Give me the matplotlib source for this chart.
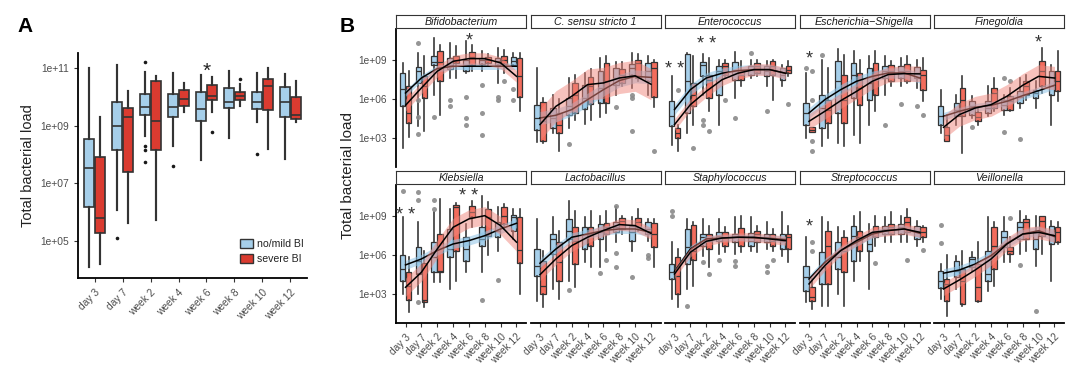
import numpy as np
import matplotlib
matplotlib.use("Agg")
import matplotlib.pyplot as plt
from matplotlib.patches import Patch
from matplotlib.ticker import NullLocator

plt.rcParams['font.family'] = ['Liberation Sans', 'DejaVu Sans']

# ---------------- data ----------------
TIMES = ["day 3", "day 7", "week 2", "week 4", "week 6", "week 8", "week 10", "week 12"]
GROUPS = ["no/mild BI", "severe BI"]

# Panel A (log10 total bacterial load)
A_blue_hi = [11.0, 11.1, 10.88, 10.83, 10.77, 10.92, 10.83, 10.8]
A_blue_q3 = [8.55, 9.84, 10.09, 10.09, 10.16, 10.31, 10.19, 10.36]
A_blue_med = [7.53, 9.0, 9.64, 9.64, 9.59, 9.81, 9.84, 9.84]
A_blue_q1 = [6.17, 8.17, 9.38, 9.3, 9.18, 9.6, 9.58, 9.29]
A_blue_lo = [4.09, 6.06, 8.63, 8.28, 7.8, 8.57, 9.12, 7.84]
A_red_hi = [9.29, 10.2, 10.73, 10.5, 10.68, 10.46, 11.0, 10.56]
A_red_q3 = [7.91, 9.6, 10.57, 10.23, 10.42, 10.16, 10.62, 10.0]
A_red_med = [5.80, 9.32, 9.17, 9.92, 10.02, 10.02, 10.39, 9.38]
A_red_q1 = [5.28, 7.38, 8.14, 9.67, 9.9, 9.88, 9.55, 9.23]
A_red_lo = [4.2, 5.62, 5.72, 9.46, 9.46, 9.69, 8.19, 9.12]
A_blue_out = [(1, 5.1), (2, 11.2), (2, 8.28), (2, 8.14), (2, 7.73), (3, 7.59), (6, 8.02)]
A_red_out = [(4, 8.78), (5, 10.63)]
A_stars = [(4, 10.9, "*")]

# Panel B
TAXA = ["Bifidobacterium", "C. sensu stricto 1", "Enterococcus", "Escherichia\u2212Shigella",
        "Finegoldia", "Klebsiella", "Lactobacillus", "Staphylococcus", "Streptococcus", "Veillonella"]

B_blue_hi = [
    [8.8, 9.55, 10.7, 10.34, 10.5, 9.7, 9.95, 9.57],
    [8.4, 6.35, 7.6, 8.0, 9.2, 8.9, 9.55, 9.3],
    [7.76, 9.6, 9.5, 9.05, 9.64, 9.05, 8.92, 8.66],
    [8.0, 9.05, 9.9, 9.7, 9.3, 9.3, 9.2, 9.05],
    [6.73, 6.35, 6.22, 6.99, 6.35, 7.63, 7.38, 8.66],
    [8.92, 8.54, 9.3, 9.57, 8.4, 10.6, 9.7, 9.57],
    [8.8, 8.92, 10.2, 8.92, 9.05, 9.7, 8.92, 8.8],
    [7.0, 8.8, 8.8, 8.8, 8.92, 8.92, 8.54, 9.3],
    [7.38, 8.92, 8.15, 9.05, 8.4, 8.92, 9.05, 8.66],
    [5.31, 5.96, 6.22, 8.92, 8.92, 9.44, 9.05, 8.66],
]
B_blue_q3 = [
    [8.0, 8.45, 9.3, 9.2, 9.05, 9.2, 9.2, 9.25],
    [5.57, 5.3, 6.1, 7.1, 8.15, 8.4, 8.7, 8.8],
    [5.83, 9.5, 8.85, 8.53, 8.85, 8.54, 8.54, 8.4],
    [5.7, 6.35, 8.92, 8.8, 8.4, 8.54, 8.54, 8.46],
    [5.44, 5.7, 5.83, 5.88, 5.96, 6.6, 6.73, 8.15],
    [6.04, 6.65, 7.0, 8.02, 7.38, 8.15, 8.53, 9.13],
    [6.47, 7.63, 8.8, 8.15, 8.4, 8.54, 8.28, 8.54],
    [5.31, 8.02, 7.63, 7.76, 7.63, 7.7, 7.63, 7.63],
    [5.19, 6.22, 7.0, 8.28, 7.63, 8.28, 8.4, 8.28],
    [4.75, 5.57, 5.88, 6.35, 7.9, 8.54, 7.76, 8.28],
]
B_blue_med = [
    [6.8, 8.15, 8.9, 8.65, 8.6, 9.0, 8.95, 8.95],
    [4.54, 4.54, 5.45, 6.1, 6.86, 7.63, 8.4, 8.15],
    [4.67, 7.38, 8.66, 8.15, 8.28, 8.28, 8.15, 7.9],
    [4.93, 5.31, 7.38, 7.9, 7.25, 8.15, 8.15, 8.02],
    [4.67, 5.19, 5.44, 5.31, 5.57, 6.2, 6.47, 7.0],
    [4.93, 5.57, 5.83, 6.47, 6.47, 7.25, 7.9, 8.92],
    [5.19, 7.25, 7.9, 7.63, 7.76, 8.15, 7.76, 8.02],
    [4.67, 6.6, 7.38, 7.5, 7.38, 7.12, 7.38, 7.12],
    [4.28, 5.06, 5.83, 7.5, 6.86, 8.02, 8.15, 7.9],
    [4.03, 4.8, 5.7, 4.54, 7.38, 8.15, 7.25, 7.63],
]
B_blue_q1 = [
    [5.45, 7.25, 8.65, 8.3, 8.2, 8.7, 8.65, 8.65],
    [3.64, 3.77, 4.8, 5.2, 5.7, 7.1, 7.9, 7.4],
    [3.9, 4.93, 7.76, 6.35, 7.5, 7.9, 7.76, 7.5],
    [4.03, 3.77, 4.93, 6.1, 5.96, 7.63, 7.63, 7.63],
    [4.03, 4.67, 4.8, 4.93, 5.19, 5.7, 6.1, 6.35],
    [4.03, 4.54, 4.67, 5.83, 5.57, 6.73, 7.38, 7.9],
    [4.41, 6.1, 7.25, 6.47, 7.25, 7.76, 7.12, 7.63],
    [4.15, 5.31, 6.73, 7.12, 7.0, 6.73, 7.0, 6.47],
    [3.25, 3.77, 4.93, 5.57, 6.35, 7.63, 7.63, 7.25],
    [3.46, 4.28, 5.06, 4.03, 6.6, 7.25, 6.47, 6.86],
]
B_blue_lo = [
    [2.2, 3.9, 6.35, 7.6, 8.0, 8.15, 7.25, 8.54],
    [2.7, 3.4, 3.8, 4.05, 4.65, 6.35, 6.85, 6.35],
    [2.48, 3.38, 6.35, 4.0, 6.1, 7.63, 7.0, 7.0],
    [3.0, 2.35, 2.6, 3.25, 4.03, 6.35, 7.0, 6.85],
    [3.38, 4.03, 4.54, 4.67, 4.8, 5.31, 5.31, 4.03],
    [3.0, 3.0, 3.9, 3.38, 4.67, 4.67, 6.35, 7.25],
    [2.48, 3.38, 4.03, 5.44, 5.1, 7.0, 6.35, 7.12],
    [2.6, 3.38, 5.96, 6.1, 6.1, 6.35, 6.47, 5.96],
    [2.35, 2.09, 3.0, 4.03, 3.38, 6.99, 6.99, 6.73],
    [2.6, 3.38, 4.8, 3.25, 5.44, 6.1, 5.19, 4.03],
]
B_red_hi = [
    [8.15, 9.3, 10.2, 10.1, 10.2, 9.45, 9.8, 9.55],
    [6.08, 6.0, 7.9, 8.3, 9.3, 8.85, 9.45, 9.05],
    [4.03, 9.3, 9.2, 9.05, 8.92, 9.05, 9.05, 8.92],
    [3.82, 8.4, 9.44, 9.05, 9.7, 8.92, 9.3, 9.2],
    [4.8, 7.76, 5.31, 7.63, 6.86, 7.9, 9.95, 9.7],
    [5.83, 6.35, 10.34, 10.0, 10.2, 10.1, 9.95, 9.55],
    [6.35, 7.9, 9.44, 9.44, 9.44, 9.05, 9.57, 8.8],
    [6.47, 8.54, 8.28, 8.15, 9.05, 8.28, 8.03, 8.28],
    [4.15, 8.54, 7.9, 9.3, 9.05, 9.3, 9.57, 8.28],
    [6.0, 6.35, 7.0, 8.54, 7.38, 9.05, 9.05, 8.54],
]
B_red_q3 = [
    [7.0, 7.75, 9.75, 9.3, 9.65, 9.25, 9.3, 9.2],
    [5.78, 4.9, 7.25, 7.7, 8.8, 8.3, 9.05, 8.9],
    [3.77, 7.25, 7.9, 8.8, 8.28, 8.8, 8.92, 8.54],
    [3.82, 5.96, 7.9, 8.02, 8.8, 8.6, 8.7, 8.28],
    [3.82, 6.86, 5.0, 6.86, 6.22, 7.38, 8.92, 8.15],
    [4.67, 5.37, 7.63, 9.9, 9.82, 9.57, 9.7, 8.92],
    [5.57, 7.0, 8.15, 8.15, 8.46, 8.85, 8.85, 8.46],
    [5.88, 8.36, 7.63, 7.76, 8.1, 7.9, 7.63, 7.63],
    [3.51, 7.9, 7.38, 7.9, 8.28, 8.4, 8.92, 8.15],
    [4.15, 4.93, 5.31, 8.15, 6.65, 8.8, 9.05, 8.15],
]
B_red_med = [
    [4.9, 7.0, 8.9, 9.05, 9.25, 9.05, 9.05, 7.8],
    [4.3, 4.0, 6.35, 7.0, 7.4, 7.9, 8.8, 8.4],
    [3.38, 6.35, 7.5, 8.54, 7.9, 8.54, 8.54, 8.28],
    [3.64, 5.19, 5.96, 6.86, 7.63, 8.15, 8.15, 7.9],
    [3.25, 5.96, 4.6, 6.47, 5.83, 7.0, 8.15, 7.38],
    [3.64, 2.5, 4.75, 9.7, 9.3, 8.92, 9.05, 6.4],
    [3.64, 5.44, 7.12, 7.63, 8.15, 8.66, 8.54, 7.63],
    [4.41, 6.35, 7.12, 7.38, 7.5, 7.63, 7.12, 7.38],
    [2.74, 6.73, 6.35, 7.38, 7.9, 8.15, 8.54, 7.76],
    [3.77, 4.03, 3.51, 6.73, 6.35, 8.54, 8.66, 7.76],
]
B_red_q1 = [
    [4.15, 6.1, 7.4, 8.8, 8.65, 8.8, 8.7, 6.2],
    [2.74, 3.4, 4.9, 5.6, 5.7, 7.25, 7.63, 6.2],
    [3.0, 5.44, 6.1, 7.9, 7.5, 8.0, 7.9, 8.0],
    [3.46, 4.15, 4.15, 5.57, 6.35, 7.4, 7.38, 6.73],
    [2.74, 4.67, 4.28, 5.31, 5.19, 6.35, 7.0, 6.6],
    [2.53, 2.35, 4.67, 6.35, 8.92, 7.5, 8.4, 5.37],
    [3.0, 4.03, 5.31, 6.73, 7.63, 8.02, 8.15, 6.6],
    [3.0, 5.62, 6.47, 6.73, 6.73, 7.0, 6.73, 6.47],
    [2.43, 3.77, 4.67, 6.35, 7.38, 7.63, 7.76, 7.38],
    [2.48, 2.22, 2.48, 4.93, 6.1, 7.25, 7.5, 7.0],
]
B_red_lo = [
    [3.1, 3.5, 4.75, 7.6, 8.15, 8.55, 8.0, 5.1],
    [2.6, 1.95, 4.4, 4.4, 4.9, 7.0, 7.4, 5.4],
    [1.96, 4.0, 5.06, 7.63, 6.99, 7.76, 5.96, 7.76],
    [3.46, 3.0, 2.35, 2.6, 5.06, 7.0, 7.25, 5.83],
    [2.74, 1.83, 4.03, 5.06, 5.06, 5.96, 6.47, 5.83],
    [1.58, 1.95, 3.9, 4.03, 8.15, 6.0, 8.02, 3.0],
    [1.96, 2.6, 3.5, 5.06, 6.35, 7.63, 7.89, 5.1],
    [1.96, 3.6, 5.06, 6.22, 6.22, 6.22, 6.35, 5.44],
    [1.83, 2.09, 2.09, 5.57, 6.73, 7.0, 6.99, 7.0],
    [1.32, 2.09, 2.35, 3.64, 5.44, 6.35, 6.1, 6.86],
]
B_blue_out = [
    [(1, 10.3), (1, 5.95), (1, 4.6), (1, 3.3), (2, 4.6), (3, 5.95), (3, 5.45), (4, 6.2), (4, 4.5),
     (4, 4.0), (5, 7.1), (5, 4.9), (5, 3.25), (6, 6.2), (6, 5.95), (7, 6.8), (7, 5.95)],
    [(2, 2.5), (5, 5.4), (6, 6.35), (6, 6.05), (6, 3.5)],
    [(2, 4.4), (2, 4.0), (4, 4.54), (5, 9.57), (6, 5.1)],
    [(0, 8.4), (1, 9.44), (5, 4.0), (6, 5.6), (7, 5.5)],
    [(2, 3.82), (4, 7.63), (4, 3.46), (5, 2.95)],
    [(0, 10.93), (1, 10.86), (1, 10.26), (1, 2.35), (2, 10.26), (2, 9.57), (5, 2.56), (6, 4.08)],
    [(2, 3.3), (4, 4.6), (5, 6.14), (5, 5.1), (5, 9.77), (6, 4.33), (7, 6.04), (7, 5.78)],
    [(0, 9.44), (0, 9.05), (1, 2.09), (2, 5.44), (3, 5.62), (4, 5.52), (4, 5.19), (6, 5.19), (6, 4.67)],
    [],
    [(0, 8.36), (0, 6.91), (5, 5.24), (6, 1.65)],
]
B_red_out = [
    [(6, 7.4)],
    [(7, 1.95)],
    [(0, 6.73), (1, 2.2), (2, 3.5), (3, 5.9), (7, 5.6)],
    [(0, 8.15), (0, 5.96), (0, 2.79), (0, 1.96), (7, 4.8)],
    [(4, 7.43)],
    [],
    [(4, 5.62)],
    [(2, 4.54), (6, 5.62)],
    [(0, 7.0), (0, 6.35), (4, 5.37), (6, 5.62), (7, 6.4)],
    [(4, 8.87)],
]
# fitted trends (log10) per group at each time point
B_blue_fit = [
    [6.47, 7.63, 8.36, 8.54, 8.54, 8.54, 8.54, 8.54],
    [4.54, 4.75, 5.19, 5.96, 6.73, 7.43, 7.76, 7.68],
    [5.19, 6.73, 7.63, 8.0, 8.2, 8.28, 8.28, 8.0],
    [4.93, 5.96, 6.73, 7.38, 7.76, 8.02, 8.02, 7.63],
    [4.67, 5.06, 5.37, 5.52, 5.83, 6.27, 6.65, 7.07],
    [5.24, 5.7, 6.35, 6.86, 7.12, 7.5, 8.02, 8.46],
    [5.37, 6.47, 7.38, 7.63, 7.9, 8.02, 8.02, 7.76],
    [4.75, 6.47, 7.25, 7.32, 7.38, 7.32, 7.3, 7.2],
    [4.15, 5.44, 6.35, 6.99, 7.63, 7.9, 8.02, 7.68],
    [4.6, 4.85, 5.31, 5.96, 6.91, 7.63, 7.89, 7.43],
]
B_red_fit = [
    [5.52, 6.86, 8.15, 8.92, 9.13, 9.13, 8.8, 7.76],
    [4.03, 5.44, 6.22, 7.12, 7.25, 7.63, 7.8, 7.15],
    [4.03, 5.57, 6.6, 7.5, 8.0, 8.28, 8.28, 8.0],
    [4.28, 5.06, 5.88, 6.6, 7.38, 7.9, 7.97, 7.95],
    [3.82, 4.8, 5.31, 5.57, 6.22, 7.07, 7.76, 7.63],
    [3.51, 4.67, 6.47, 8.15, 8.8, 9.05, 8.28, 7.0],
    [4.49, 5.7, 6.73, 7.38, 7.9, 8.36, 8.28, 7.68],
    [4.54, 6.22, 7.07, 7.32, 7.38, 7.38, 7.25, 7.12],
    [3.77, 5.19, 6.35, 7.12, 7.76, 7.9, 8.02, 7.76],
    [3.38, 4.08, 4.85, 5.7, 6.86, 7.63, 7.76, 7.5],
]
# half width of confidence bands (decades)
B_blue_band = [0.25, 0.5, 0.4, 0.4, 0.3, 0.35, 0.35, 0.25, 0.3, 0.35]
B_red_band = [0.45, 1.2, 0.45, 0.6, 0.9, 0.7, 0.45, 0.35, 0.4, 0.5]
# significance marks: (taxon, time index, height, label)
B_stars = [(0, 4, 10.5, "*"), (2, 0, 8.3, "* *"), (2, 2, 10.24, "* *"), (3, 0, 9.1, "*"),
           (4, 6, 10.37, "*"), (5, 0, 9.1, "* *"), (5, 4, 10.5, "* *"), (8, 0, 8.18, "*")]

# ---------------- style ----------------
W, H = 1080, 369
BLUE = '#A6CFEA'
RED_A = '#DA3B30'
RED_B = '#F26C5C'
EDGE = '#333333'
TICKC = '#4D4D4D'
BAND_BLUE = '#8EC3E6'
BAND_RED = '#F0867C'


def frac(x, y, w, h):
    return [x / W, 1 - (y + h) / H, w / W, h / H]


def draw_boxes(ax, lo, q1, med, q3, hi, outs, offset, color, lw, fl_color, fl_size, alpha=1.0):
    stats = []
    for i in range(len(med)):
        fl = [10 ** v for (t, v) in outs if t == i]
        stats.append(dict(med=10 ** med[i], q1=10 ** q1[i], q3=10 ** q3[i],
                          whislo=10 ** lo[i], whishi=10 ** hi[i], fliers=fl))
    pos = [i + 1 + offset for i in range(len(med))]
    ax.bxp(stats, positions=pos, widths=0.36, patch_artist=True, showcaps=False,
           boxprops=dict(facecolor=color, edgecolor=EDGE, linewidth=lw, alpha=alpha),
           medianprops=dict(color=EDGE, linewidth=lw),
           whiskerprops=dict(color=EDGE, linewidth=lw * 1.3),
           flierprops=dict(marker='o', markerfacecolor=fl_color, markeredgecolor='none',
                           markersize=fl_size, alpha=0.9),
           manage_ticks=False)


def log_labels(ax, exps):
    ax.set_yticks([10.0 ** e for e in exps])
    ax.set_yticklabels(['1e+%02d' % e for e in exps])
    ax.yaxis.set_minor_locator(NullLocator())


fig = plt.figure(figsize=(W / 100, H / 100), dpi=100)

# ---------------- Panel A ----------------
axA = fig.add_axes(frac(78, 53, 229, 225))
axA.set_yscale('log')
draw_boxes(axA, A_blue_lo, A_blue_q1, A_blue_med, A_blue_q3, A_blue_hi, A_blue_out,
           -0.19, BLUE, 1.2, 'black', 2.6)
draw_boxes(axA, A_red_lo, A_red_q1, A_red_med, A_red_q3, A_red_hi, A_red_out,
           0.19, RED_A, 1.2, 'black', 2.6)
for t, v, s in A_stars:
    axA.text(t + 1, 10 ** v, s, ha='center', va='center', fontsize=15, color='#222222')
axA.set_xlim(0.4, 8.6)
axA.set_ylim(10 ** 3.70, 10 ** 11.53)
log_labels(axA, [5, 7, 9, 11])
axA.set_xticks(range(1, 9))
axA.set_xticklabels(TIMES, rotation=45, ha='right', rotation_mode='anchor')
axA.tick_params(axis='both', labelsize=7.4, colors=EDGE, labelcolor=TICKC, length=3, width=0.8)
for s in ['top', 'right']:
    axA.spines[s].set_visible(False)
for s in ['left', 'bottom']:
    axA.spines[s].set_linewidth(1.3)
    axA.spines[s].set_color('black')
axA.set_ylabel('Total bacterial load', fontsize=10.5, color='#222222', labelpad=4)
handles = [Patch(facecolor=BLUE, edgecolor=EDGE, linewidth=1.0, label=GROUPS[0]),
           Patch(facecolor=RED_A, edgecolor=EDGE, linewidth=1.0, label=GROUPS[1])]
axA.legend(handles=handles, loc='lower right', bbox_to_anchor=(1.03, 0.02), frameon=False,
           fontsize=7.6, handlelength=1.3, handleheight=1.0, handletextpad=0.4,
           labelspacing=0.45, labelcolor='#222222')
fig.text(25 / W, 1 - 27 / H, 'A', fontsize=15, fontweight='bold', ha='center', va='center')

# ---------------- Panel B ----------------
col_x = [396, 530.5, 665, 799.5, 934]
row_y = [29, 185]
PW, PH = 130, 138
for k, name in enumerate(TAXA):
    r, c = divmod(k, 5)
    x0, y0 = col_x[c], row_y[r]
    ax = fig.add_axes(frac(x0, y0, PW, PH))
    ax.set_yscale('log')
    draw_boxes(ax, B_blue_lo[k], B_blue_q1[k], B_blue_med[k], B_blue_q3[k], B_blue_hi[k],
               B_blue_out[k], -0.19, BLUE, 0.9, '#8A8A8A', 3.6)
    draw_boxes(ax, B_red_lo[k], B_red_q1[k], B_red_med[k], B_red_q3[k], B_red_hi[k],
               B_red_out[k], 0.19, RED_B, 0.9, '#8A8A8A', 3.6)
    xs = np.arange(1, 9)
    bf = np.array(B_blue_fit[k])
    rf = np.array(B_red_fit[k])
    ax.fill_between(xs, 10 ** (bf - B_blue_band[k]), 10 ** (bf + B_blue_band[k]),
                    color=BAND_BLUE, alpha=0.55, lw=0, zorder=4)
    ax.plot(xs, 10 ** bf, color='black', lw=1.1, zorder=4.5)
    ax.fill_between(xs, 10 ** (rf - B_red_band[k]), 10 ** (rf + B_red_band[k]),
                    color=BAND_RED, alpha=0.5, lw=0, zorder=5)
    ax.plot(xs, 10 ** rf, color='black', lw=1.1, zorder=5.5)
    for (tk, t, v, s) in B_stars:
        if tk == k:
            ax.text(t + 1, 10 ** v, s, ha='center', va='center', fontsize=13,
                    color='#333333', zorder=6)
    ax.set_xlim(0.4, 8.6)
    ax.set_ylim(10 ** 0.75, 10 ** 11.42)
    for s in ['top', 'right']:
        ax.spines[s].set_visible(False)
    ax.set_xticks(range(1, 9))
    if r == 1:
        ax.set_xticklabels(TIMES, rotation=45, ha='right', rotation_mode='anchor')
        ax.spines['bottom'].set_linewidth(1.3)
        ax.spines['bottom'].set_color('black')
        ax.tick_params(axis='x', labelsize=7.3, colors=EDGE, labelcolor=TICKC, length=3, width=0.8)
    else:
        ax.spines['bottom'].set_visible(False)
        ax.tick_params(axis='x', length=0, labelbottom=False)
    log_labels(ax, [3, 6, 9])
    if c == 0:
        ax.spines['left'].set_linewidth(1.3)
        ax.spines['left'].set_color('black')
        ax.tick_params(axis='y', labelsize=7.3, colors=EDGE, labelcolor=TICKC, length=3, width=0.8)
    else:
        ax.spines['left'].set_visible(False)
        ax.tick_params(axis='y', length=0, labelleft=False)
    # strip
    sax = fig.add_axes(frac(x0, y0 - 14, PW, 13))
    sax.set_xticks([])
    sax.set_yticks([])
    for s in sax.spines.values():
        s.set_color('#333333')
        s.set_linewidth(0.8)
    sax.text(0.5, 0.47, name, ha='center', va='center', fontsize=7.7, style='italic',
             color='#1A1A1A', transform=sax.transAxes)

fig.text(348 / W, 1 - 176 / H, 'Total bacterial load', rotation=90, fontsize=11,
         ha='center', va='center', color='#222222')
fig.text(347 / W, 1 - 26 / H, 'B', fontsize=15, fontweight='bold', ha='center', va='center')

fig.savefig('out.png', dpi=100)
